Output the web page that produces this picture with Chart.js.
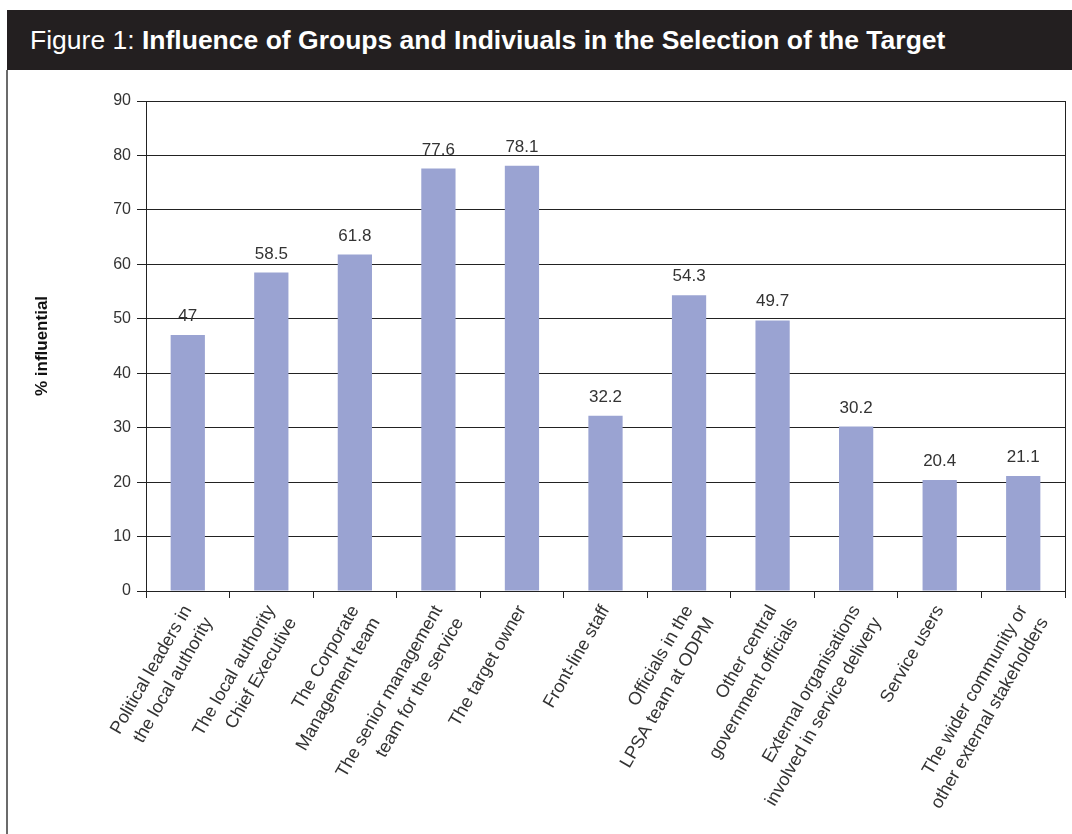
<!DOCTYPE html>
<html lang="en">
<head>
    <meta charset="UTF-8">
    <title>Figure 1: Influence of Groups and Indiviuals in the Selection of the Target</title>

    <!-- Chart.js -->
    <script src="https://cdn.jsdelivr.net/npm/chart.js"></script>

    <style>
        body {
            margin: 0;
            width: 1072px;
            height: 834px;
            position: relative;
            overflow: hidden;
            background-color: #fff;
            font-family: "Liberation Sans", Arial, sans-serif;
        }
        .title-bar {
            position: absolute;
            left: 7px;
            top: 10px;
            width: 1065px;
            height: 60px;
            box-sizing: border-box;
            padding-left: 23px;
            background-color: #231f20;
            color: #fff;
            font-size: 26.5px;
            line-height: 60px;
            white-space: nowrap;
        }
        .frame-left {
            position: absolute;
            left: 6px;
            top: 70px;
            width: 2px;
            height: 764px;
            background-color: #6b6b6b;
        }
        .chart-box {
            position: absolute;
            left: 8px;
            top: 70px;
            width: 1064px;
            height: 764px;
        }
    </style>
</head>
<body>

<div class="title-bar">Figure 1: <b>Influence of Groups and Indiviuals in the Selection of the Target</b></div>
<div class="frame-left"></div>

<div class="chart-box">
    <canvas id="influenceChart" width="1064" height="764"></canvas>
</div>

<script>
    // chart data
    const categories = [
        ['Political leaders in', 'the local authority'],
        ['The local authority', 'Chief Executive'],
        ['The Corporate', 'Management team'],
        ['The senior management', 'team for the service'],
        'The target owner',
        'Front-line staff',
        ['Officials in the', 'LPSA team at ODPM'],
        ['Other central', 'government officials'],
        ['External organisations', 'involved in service delivery'],
        'Service users',
        ['The wider community or', 'other external stakeholders']
    ];
    const influential = [47, 58.5, 61.8, 77.6, 78.1, 32.2, 54.3, 49.7, 30.2, 20.4, 21.1];
    const yTicks = [0, 10, 20, 30, 40, 50, 60, 70, 80, 90];

    const FONT = '"Liberation Sans", Arial, sans-serif';
    const TEXT = '#333';
    const LINE = '#222';

    // value above each bar
    const valueLabels = {
        id: 'valueLabels',
        afterDatasetsDraw(chart) {
            const ctx = chart.ctx;
            const meta = chart.getDatasetMeta(0);
            ctx.save();
            ctx.font = '17px ' + FONT;
            ctx.fillStyle = TEXT;
            ctx.textAlign = 'center';
            ctx.textBaseline = 'alphabetic';
            meta.data.forEach((bar, i) => {
                ctx.fillText(String(influential[i]), bar.x, bar.y - 14);
            });
            ctx.restore();
        }
    };

    const ctx = document.getElementById('influenceChart').getContext('2d');
    const influenceChart = new Chart(ctx, {
        type: 'bar',
        data: {
            labels: categories,
            datasets: [{
                label: '% influential',
                data: influential,
                backgroundColor: '#9aa3d2',
                barPercentage: 0.41,
                categoryPercentage: 1
            }]
        },
        options: {
            responsive: false,
            animation: false,
            layout: {
                padding: { top: 31, right: 7, left: 0, bottom: 0 }
            },
            plugins: {
                legend: { display: false },
                tooltip: { enabled: false }
            },
            scales: {
                x: {
                    grid: {
                        offset: true,
                        // only the right-hand edge of the plot is drawn inside
                        color: (c) => c.type === 'scale' ? LINE : 'rgba(0,0,0,0)',
                        tickColor: LINE,
                        tickLength: 7
                    },
                    border: { color: LINE, width: 1 },
                    ticks: {
                        autoSkip: false,
                        maxRotation: 60,
                        minRotation: 60,
                        padding: 3,
                        color: TEXT,
                        font: { family: FONT, size: 18, lineHeight: 1.35 }
                    },
                    afterFit(scale) {
                        scale.height = 243;
                    }
                },
                y: {
                    min: 0,
                    max: 90,
                    afterBuildTicks(scale) {
                        scale.ticks = yTicks.map(v => ({ value: v }));
                    },
                    grid: {
                        color: LINE,
                        tickColor: LINE,
                        tickLength: 9
                    },
                    border: { color: LINE, width: 1 },
                    ticks: {
                        padding: 6,
                        color: TEXT,
                        font: { family: FONT, size: 16 }
                    },
                    title: {
                        display: true,
                        text: '% influential',
                        color: '#111',
                        font: { family: FONT, size: 17, weight: 'bold' },
                        padding: { top: 24, bottom: 0 }
                    },
                    afterFit(scale) {
                        scale.width = 138;
                    }
                }
            }
        },
        plugins: [valueLabels]
    });
</script>

</body>
</html>
